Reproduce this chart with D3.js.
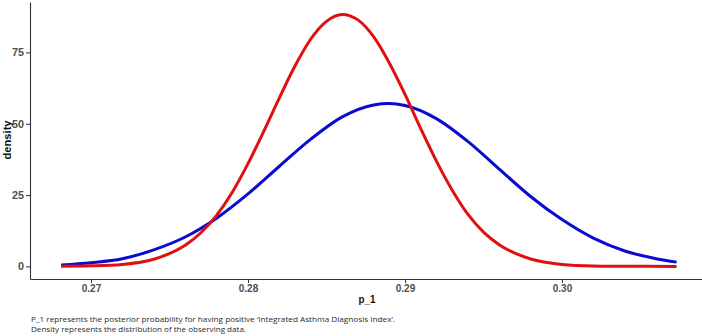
<!DOCTYPE html>
<html>
<head>
<meta charset="utf-8">
<script src="https://cdn.jsdelivr.net/npm/d3@7"></script>
<style>
  html, body { margin: 0; padding: 0; background: #fff; }
  svg { display: block; }
</style>
</head>
<body>
<svg id="chart" width="702" height="336"></svg>
<script>
// ---- data ----
const redX = [0.2681, 0.270, 0.272, 0.274, 0.276, 0.277, 0.278, 0.279, 0.280, 0.281, 0.282, 0.283, 0.284, 0.285, 0.286, 0.287, 0.288, 0.289, 0.290, 0.291, 0.292, 0.293, 0.294, 0.295, 0.296, 0.298, 0.300, 0.302, 0.304, 0.3073];
const redY = [0.05, 0.2, 0.7, 2.5, 7.4, 11.8, 17.9, 26.0, 36.0, 47.3, 59.1, 70.3, 79.7, 85.9, 88.3, 86.4, 80.5, 71.3, 60.3, 48.3, 36.9, 26.8, 18.3, 12.0, 7.6, 2.6, 0.7, 0.15, 0.03, 0.0];
const blueX = [0.2681, 0.270, 0.272, 0.274, 0.276, 0.278, 0.280, 0.282, 0.284, 0.286, 0.288, 0.289, 0.290, 0.292, 0.294, 0.296, 0.298, 0.300, 0.302, 0.304, 0.306, 0.3073];
const blueY = [0.5, 1.3, 2.7, 5.8, 10.3, 16.9, 25.4, 35.1, 44.6, 52.4, 56.6, 57.1, 56.4, 51.8, 43.8, 34.1, 24.5, 16.4, 9.9, 5.4, 2.7, 1.5];
const xTicks = [0.27, 0.28, 0.29, 0.30];
const yTicks = [0, 25, 50, 75];
const xLabel = "p_1";
const yLabel = "density";
const caption = [
  "P_1 represents the posterior probability for having positive \u2018Integrated Asthma Diagnosis Index\u2019.",
  "Density represents the distribution of the observing data."
];

// ---- layout ----
const mLeft = 30, mRight = 702, mTop = 2, mBottom = 279;
const svg = d3.select("#chart");

const x = d3.scaleLinear().domain([0.266115, 0.308917]).range([mLeft, mRight]);
const y = d3.scaleLinear().domain([-4.42, 92.67]).range([mBottom, mTop]);

// axes
const gx = svg.append("g").attr("transform", `translate(0,${mBottom})`)
  .call(d3.axisBottom(x).tickValues(xTicks).tickFormat(d3.format(".2f")).tickSize(4).tickPadding(1.5).tickSizeOuter(0));
const gy = svg.append("g").attr("transform", `translate(${mLeft},0)`)
  .call(d3.axisLeft(y).tickValues(yTicks).tickFormat(d3.format("d")).tickSize(4).tickPadding(2).tickSizeOuter(0));

[gx, gy].forEach(g => {
  g.select(".domain").attr("stroke", "#333").attr("stroke-width", 1.1);
  g.selectAll(".tick line").attr("stroke", "#333").attr("stroke-width", 1);
  g.selectAll(".tick text")
    .attr("fill", "#4d4d4d")
    .style("font-family", "Liberation Sans, Arial, sans-serif")
    .style("font-size", "10.8px")
    .style("font-weight", "bold");
});
gx.selectAll(".tick text").attr("textLength", 19.5).attr("lengthAdjust", "spacingAndGlyphs");

// curves
const line = d3.line().x(d => x(d[0])).y(d => y(d[1])).curve(d3.curveMonotoneX);
const redData = redX.map((v, i) => [v, redY[i]]);
const blueData = blueX.map((v, i) => [v, blueY[i]]);

svg.append("path").datum(blueData).attr("d", line)
  .attr("fill", "none").attr("stroke", "#0a0ad2").attr("stroke-width", 3)
  .attr("stroke-linejoin", "round").attr("stroke-linecap", "butt");
svg.append("path").datum(redData).attr("d", line)
  .attr("fill", "none").attr("stroke", "#e01010").attr("stroke-width", 3)
  .attr("stroke-linejoin", "round").attr("stroke-linecap", "butt");

// axis titles
svg.append("text")
  .attr("x", 367).attr("y", 303)
  .attr("text-anchor", "middle")
  .style("font-family", "Liberation Sans, Arial, sans-serif")
  .style("font-size", "11.5px").style("font-weight", "bold")
  .attr("fill", "#111")
  .attr("textLength", 17).attr("lengthAdjust", "spacingAndGlyphs")
  .text(xLabel);

svg.append("text")
  .attr("transform", `translate(11,${140}) rotate(-90)`)
  .attr("text-anchor", "middle")
  .style("font-family", "Liberation Sans, Arial, sans-serif")
  .style("font-size", "11.2px").style("font-weight", "bold")
  .attr("fill", "#111")
  .text(yLabel);

// caption
const capLen = [364, 215];
svg.selectAll("text.caption").data(caption).enter().append("text")
  .attr("class", "caption")
  .attr("x", 31).attr("y", (d, i) => 322.3 + i * 9.6)
  .style("font-family", "Open Sans, Liberation Sans, sans-serif")
  .style("font-size", "7.9px")
  .attr("fill", "#2a2a2a")
  .attr("textLength", (d, i) => capLen[i]).attr("lengthAdjust", "spacingAndGlyphs")
  .text(d => d);
</script>
</body>
</html>
